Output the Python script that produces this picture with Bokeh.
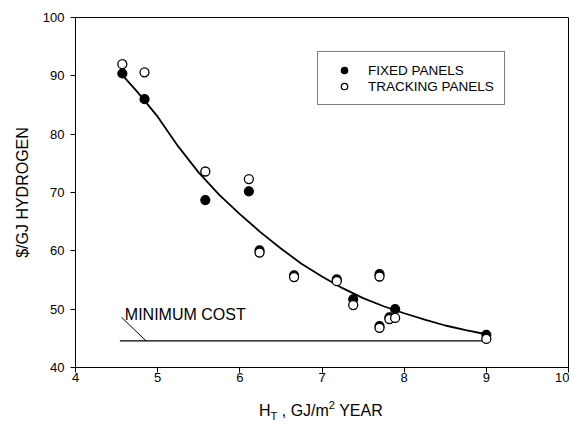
from bokeh.plotting import figure
from bokeh.models import Range1d, FixedTicker, Legend, LegendItem, Label, Div
from bokeh.layouts import column
from bokeh.embed import file_html
from bokeh.resources import INLINE

# ---- data ----
fixed_x = [4.57, 4.84, 5.58, 6.11, 6.24, 6.66, 7.18, 7.38, 7.70, 7.70, 7.82, 7.89, 9.00]
fixed_y = [90.4, 86.0, 68.7, 70.2, 60.1, 55.8, 55.1, 51.7, 56.0, 47.1, 48.6, 50.0, 45.6]
track_x = [4.57, 4.84, 5.58, 6.11, 6.24, 6.66, 7.18, 7.38, 7.70, 7.70, 7.82, 7.89, 9.00]
track_y = [92.0, 90.6, 73.6, 72.3, 59.7, 55.5, 54.8, 50.7, 55.6, 46.8, 48.3, 48.5, 44.9]

curve_x = [4.56, 4.75, 5.0, 5.25, 5.5, 5.75, 6.0, 6.25, 6.5, 6.75, 7.0, 7.25, 7.5, 7.75, 8.0, 8.25, 8.5, 8.75, 9.0]
curve_y = [90.3, 87.3, 83.0, 77.9, 73.4, 69.6, 66.3, 63.2, 60.4, 57.8, 55.6, 53.6, 51.9, 50.5, 49.3, 48.2, 47.2, 46.4, 45.7]

min_cost_x = [4.54, 9.0]
min_cost_y = [44.55, 44.55]
pointer_x = [4.56, 4.86]
pointer_y = [48.6, 44.55]

x_ticks = [4, 5, 6, 7, 8, 9, 10]
y_ticks = [40, 50, 60, 70, 80, 90, 100]

FONT = "Liberation Sans"

FL, FT, FW, FH = 75, 17, 493, 350

p = figure(frame_width=FW, frame_height=FH,
           x_range=Range1d(4, 10), y_range=Range1d(40, 100),
           output_backend="svg", toolbar_location=None,
           min_border_left=FL, min_border_right=1, min_border_top=FT,
           min_border_bottom=30, margin=0)

p.xgrid.visible = False
p.ygrid.visible = False
p.outline_line_color = "black"
p.outline_line_width = 1
p.background_fill_color = "white"
p.border_fill_color = "white"

for ax in (p.xaxis[0], p.yaxis[0]):
    ax.axis_line_color = "black"
    ax.major_tick_line_color = "black"
    ax.major_tick_out = 5
    ax.major_tick_in = 0
    ax.minor_tick_out = 0
    ax.minor_tick_in = 0
    ax.major_label_text_font = FONT
    ax.major_label_text_font_size = "13px"
    ax.major_label_text_color = "black"
    ax.axis_label_text_font = FONT
    ax.axis_label_text_font_size = "16px"
    ax.axis_label_text_font_style = "normal"
    ax.axis_label_text_color = "black"

p.xaxis.ticker = FixedTicker(ticks=x_ticks, minor_ticks=[])
p.yaxis.ticker = FixedTicker(ticks=y_ticks, minor_ticks=[])
p.xaxis.major_label_standoff = 0
p.yaxis.major_label_standoff = 6
p.yaxis.axis_label = "$/GJ HYDROGEN"
p.yaxis.axis_label_standoff = 9

# minimum cost line and pointer
p.line(min_cost_x, min_cost_y, line_color="black", line_width=1.2)
p.line(pointer_x, pointer_y, line_color="black", line_width=1.0)
p.add_layout(Label(x=4.6, y=49.1, text="MINIMUM COST", text_font=FONT,
                   text_font_size="16px", text_color="black",
                   text_align="left", text_baseline="alphabetic"))

# fitted curve
p.line(curve_x, curve_y, line_color="black", line_width=1.8)

# points
r1 = p.scatter(fixed_x, fixed_y, size=9, marker="circle",
               fill_color="black", line_color="black", line_width=1.2)
r2 = p.scatter(track_x, track_y, size=9, marker="circle",
               fill_color="white", line_color="black", line_width=1.3)

legend = Legend(items=[LegendItem(label="FIXED PANELS", renderers=[r1]),
                       LegendItem(label="TRACKING PANELS", renderers=[r2])],
                location=(242, 262), padding=10, margin=0, spacing=0,
                glyph_width=32, glyph_height=16, label_height=16,
                label_standoff=8, label_text_font=FONT,
                label_text_font_size="13.5px", label_text_color="black",
                border_line_color="black", border_line_width=1,
                background_fill_color="white", background_fill_alpha=1)
p.add_layout(legend)

# x axis title with true subscript / superscript, as HTML text below the plot
x_title = ('<div style="font-family:\'Liberation Sans\';font-size:16px;color:black;'
           'line-height:20px;padding-left:259px;padding-top:4px;white-space:nowrap;">'
           'H<span style="font-size:11px;position:relative;top:4px;">T</span>'
           ' , GJ/m<span style="font-size:11px;position:relative;top:-7px;">2</span>'
           ' YEAR</div>')
div = Div(text=x_title, width=FL + FW + 1, height=24, margin=0)

layout = column(p, div, spacing=0)

open("out.html", "w").write(file_html(layout, INLINE))
